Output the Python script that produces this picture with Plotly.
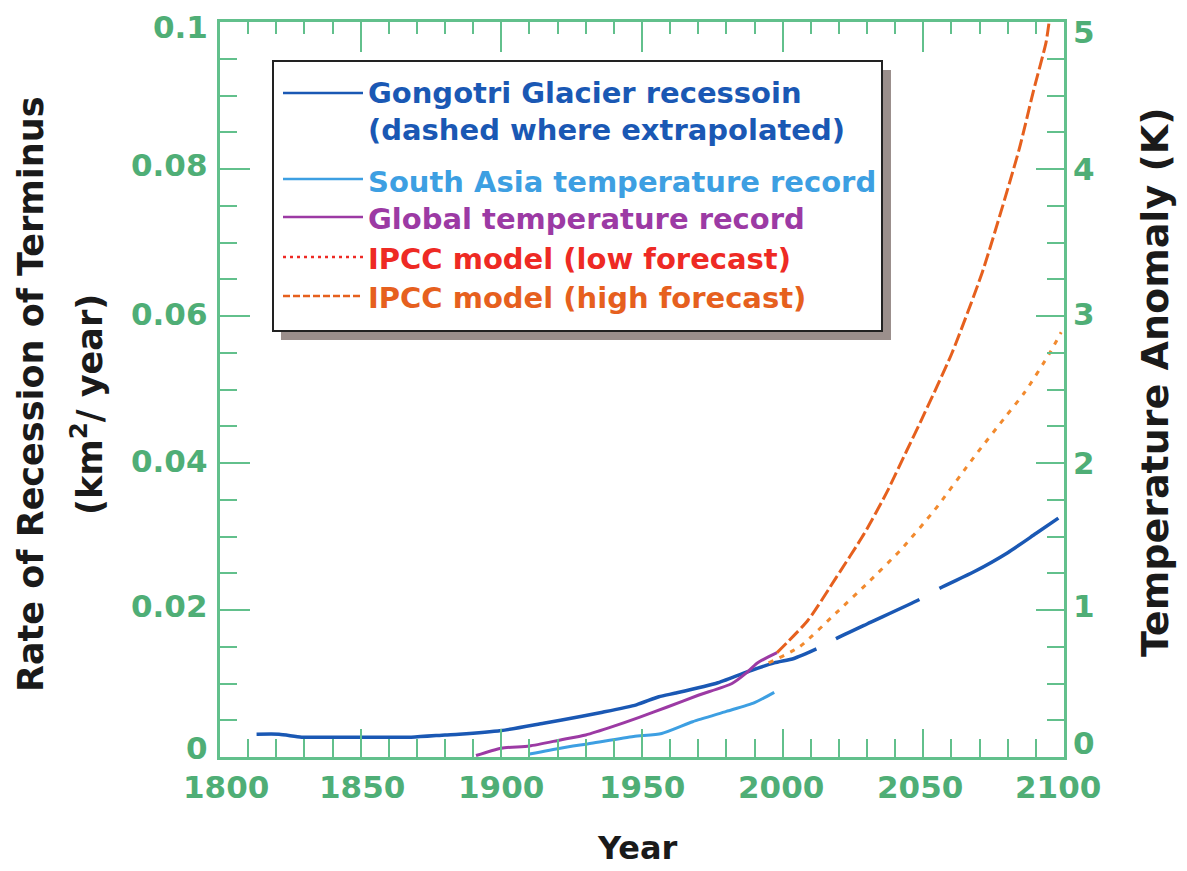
import plotly.graph_objects as go

# ---------------- data ----------------
gong_years = [1813, 1821, 1829, 1839, 1868, 1880, 1885, 1900, 1915, 1921, 1936,
              1948, 1956, 1962, 1977, 1989, 1997, 2004, 2012]
gong_rate = [0.0031, 0.0031, 0.0027, 0.0027, 0.0027, 0.0030, 0.0031, 0.0036, 0.0046,
             0.0050, 0.0061, 0.0071, 0.0082, 0.0087, 0.0101, 0.0118, 0.0128, 0.0134, 0.0147]

gong_ext_years = [2012, 2019, 2030, 2049, 2056, 2068, 2080, 2090, 2098]
gong_ext_rate = [0.0147, 0.0161, 0.0181, 0.0215, 0.0230, 0.0252, 0.0278, 0.0304, 0.0325]

sa_years = [1910, 1921, 1932, 1947, 1957, 1968, 1980, 1990, 1997]
sa_temp = [0.02, 0.06, 0.093, 0.14, 0.16, 0.24, 0.31, 0.37, 0.44]

gl_years = [1891, 1900, 1910, 1921, 1930, 1940, 1949, 1959, 1970, 1982, 1987, 1991, 1998]
gl_temp = [0.01, 0.06, 0.075, 0.116, 0.15, 0.21, 0.27, 0.34, 0.42, 0.50, 0.57, 0.64, 0.71]

low_years = [1995, 2006, 2019, 2030, 2042, 2054, 2068, 2079, 2086, 2095, 2099]
low_temp = [0.64, 0.75, 0.98, 1.18, 1.41, 1.68, 2.04, 2.31, 2.48, 2.75, 2.89]

high_years = [1998, 2009, 2019, 2029, 2037, 2044, 2049, 2060, 2071, 2084, 2089, 2093.6, 2094.7]
high_temp = [0.71, 0.93, 1.22, 1.52, 1.80, 2.08, 2.28, 2.74, 3.30, 4.13, 4.52, 4.86, 5.0]

x_tickvals = [1800, 1850, 1900, 1950, 2000, 2050, 2100]
x_ticklabels = ["1800", "1850", "1900", "1950", "2000", "2050", "2100"]
y_left_ticks = [0, 0.02, 0.04, 0.06, 0.08, 0.1]
y_left_labels = ["0", "0.02", "0.04", "0.06", "0.08", "0.1"]
y_right_ticks = [0, 1, 2, 3, 4, 5]
y_right_labels = ["0", "1", "2", "3", "4", "5"]

legend_texts = ["Gongotri Glacier recessoin", "(dashed where extrapolated)",
                "South Asia temperature record", "Global temperature record",
                "IPCC model (low forecast)", "IPCC model (high forecast)"]

# ---------------- styles ----------------
C_GONG = "#1a58b4"
C_SA = "#3d9fe2"
C_GL = "#9c3aa4"
C_LOW = "#f28a2e"
C_LOW_LEG = "#ee2a24"
C_HIGH = "#e6601e"
C_AXIS = "#62c08c"
C_TICKLAB = "#4fae76"
FONT = "DejaVu Sans"

# small nudges (px) of tick labels as drawn in the original
left_label_nudge = [9, 4, 2, 2, 4, -5]
right_label_nudge = [14, 4, 0, 2, 0, -10]
x_label_nudge = [6, 1, 0, 0, -2, -3, -6]

OFF = 8  # default body margin of the html page
W, H = 1187 - OFF, 871 - OFF
# plot-area edges in page pixels
PL, PR, PT, PB = 220, 1064, 22, 757
L, R, T, B = PL - OFF, PR - OFF, PT - OFF, PB - OFF


def pxx(p):
    return (p - PL) / (PR - PL)


def pxy(p):
    return (PB - p) / (PB - PT)


fig = go.Figure()

fig.add_trace(go.Scatter(x=gong_years, y=gong_rate, mode="lines",
                         line=dict(color=C_GONG, width=3.5, shape="spline", smoothing=0.6),
                         showlegend=False))
fig.add_trace(go.Scatter(x=gong_ext_years, y=gong_ext_rate, mode="lines",
                         line=dict(color=C_GONG, width=3.5, dash="0px,22px,92px,23px,300px",
                                   shape="spline", smoothing=0.6),
                         showlegend=False))
fig.add_trace(go.Scatter(x=sa_years, y=sa_temp, mode="lines", xaxis="x2", yaxis="y2",
                         line=dict(color=C_SA, width=3, shape="spline", smoothing=0.6),
                         showlegend=False))
fig.add_trace(go.Scatter(x=gl_years, y=gl_temp, mode="lines", xaxis="x2", yaxis="y2",
                         line=dict(color=C_GL, width=3, shape="spline", smoothing=0.6),
                         showlegend=False))
fig.add_trace(go.Scatter(x=low_years, y=low_temp, mode="lines", xaxis="x2", yaxis="y2",
                         line=dict(color=C_LOW, width=3, dash="5px,7px", shape="spline",
                                   smoothing=0.6), showlegend=False))
fig.add_trace(go.Scatter(x=high_years, y=high_temp, mode="lines", xaxis="x2", yaxis="y2",
                         line=dict(color=C_HIGH, width=3, dash="13px,4px", shape="spline",
                                   smoothing=0.6), showlegend=False))

tickfont = dict(family=FONT, size=31, color=C_TICKLAB, weight="bold")

fig.update_layout(
    width=W, height=H, autosize=False,
    margin=dict(l=L, r=W - R, t=T, b=H - B, pad=0, autoexpand=False),
    paper_bgcolor="white", plot_bgcolor="white",
    showlegend=False,
    xaxis=dict(range=[1800, 2100], tickvals=x_tickvals, ticks="inside", ticklen=28,
               tickwidth=1.5, tickcolor=C_AXIS, showline=True, linecolor=C_AXIS, linewidth=2.5,
               showgrid=False, zeroline=False, showticklabels=False, automargin=False,
               minor=dict(dtick=10, ticks="inside", ticklen=18, tickcolor=C_AXIS, tickwidth=1.5,
                          showgrid=False)),
    xaxis2=dict(range=[1800, 2100], overlaying="x", side="top", anchor="y2",
                tickvals=x_tickvals, ticks="inside", ticklen=30, tickwidth=1.5,
                tickcolor=C_AXIS, showline=True, linecolor=C_AXIS, linewidth=2.5,
                showgrid=False, zeroline=False, showticklabels=False, automargin=False,
                minor=dict(dtick=10, ticks="inside", ticklen=12, tickcolor=C_AXIS, tickwidth=1.5,
                           showgrid=False)),
    yaxis=dict(range=[0, 0.1], tickvals=y_left_ticks, showticklabels=False,
               ticks="inside", ticklen=30, tickwidth=1.5, tickcolor=C_AXIS,
               showline=True, linecolor=C_AXIS, linewidth=2.5, showgrid=False, zeroline=False,
               automargin=False,
               minor=dict(dtick=0.005, ticks="inside", ticklen=17, tickcolor=C_AXIS,
                          tickwidth=1.5, showgrid=False)),
    yaxis2=dict(range=[0, 5], overlaying="y", side="right", anchor="x2",
                tickvals=y_right_ticks, ticks="inside", ticklen=28, tickwidth=1.5,
                tickcolor=C_AXIS, showline=True, linecolor=C_AXIS, linewidth=2.5,
                showgrid=False, zeroline=False, showticklabels=False, automargin=False,
                minor=dict(dtick=0.25, ticks="inside", ticklen=17, tickcolor=C_AXIS,
                           tickwidth=1.5, showgrid=False)),
)

annotations = []
shapes = []

# tick labels (placed on the axis scales)
for v, lab, nud in zip(x_tickvals, x_ticklabels, x_label_nudge):
    annotations.append(dict(text=lab, xref="x", yref="paper", x=v, y=pxy(787),
                            xanchor="center", yanchor="middle", xshift=nud, showarrow=False,
                            font=tickfont, borderpad=0))
for v, lab, nud in zip(y_left_ticks, y_left_labels, left_label_nudge):
    annotations.append(dict(text=lab, xref="paper", yref="y", x=pxx(209), y=v,
                            xanchor="right", yanchor="middle", yshift=nud, showarrow=False,
                            font=tickfont, borderpad=0))
for v, lab, nud in zip(y_right_ticks, y_right_labels, right_label_nudge):
    annotations.append(dict(text=lab, xref="paper", yref="y2", x=pxx(1072), y=v,
                            xanchor="left", yanchor="middle", yshift=nud, showarrow=False,
                            font=tickfont, borderpad=0))

# axis titles
annotations.append(dict(text="Year", xref="paper", yref="paper", x=pxx(637), y=pxy(848),
                        showarrow=False, font=dict(family=FONT, size=32, color="#1a1a1a",
                                                   weight="bold"),
                        xanchor="center", yanchor="middle"))
annotations.append(dict(text="Rate of Recession of Terminus", xref="paper", yref="paper",
                        x=pxx(31), y=pxy(395), showarrow=False, textangle=-90,
                        font=dict(family=FONT, size=35, color="#1a1a1a", weight="bold"),
                        xanchor="center", yanchor="middle", borderpad=0))
annotations.append(dict(text="(km<sup>2</sup>/ year)", xref="paper", yref="paper",
                        x=pxx(87), y=pxy(405), showarrow=False, textangle=-90,
                        font=dict(family=FONT, size=35, color="#1a1a1a", weight="bold"),
                        xanchor="center", yanchor="middle"))
annotations.append(dict(text="Temperature Anomaly (K)", xref="paper", yref="paper",
                        x=pxx(1155), y=pxy(382), showarrow=False, textangle=-90,
                        font=dict(family=FONT, size=38, color="#1a1a1a", weight="bold"),
                        xanchor="center", yanchor="middle"))

# legend box with shadow
shapes.append(dict(type="rect", xref="paper", yref="paper", x0=pxx(281), x1=pxx(891),
                   y0=pxy(340), y1=pxy(70), fillcolor="#9b8f8c", line=dict(width=0),
                   layer="above"))
shapes.append(dict(type="rect", xref="paper", yref="paper", x0=pxx(273), x1=pxx(882),
                   y0=pxy(331), y1=pxy(61), fillcolor="white",
                   line=dict(color="#222222", width=2), layer="above"))

leg_text_y = [93, 130, 182, 219, 259, 298]
leg_colors = [C_GONG, C_GONG, C_SA, C_GL, C_LOW_LEG, C_HIGH]
for txt, yy, col in zip(legend_texts, leg_text_y, leg_colors):
    annotations.append(dict(text=txt, xref="paper", yref="paper", x=pxx(366), y=pxy(yy),
                            showarrow=False, xanchor="left", yanchor="middle",
                            font=dict(family=FONT, size=29, color=col, weight="bold")))

sample_y = [93, 179, 217, 257, 296]
sample_cols = [C_GONG, C_SA, C_GL, C_LOW_LEG, C_HIGH]
sample_dash = ["solid", "solid", "solid", "3px,4px", "7px,3px"]
for yy, col, ds in zip(sample_y, sample_cols, sample_dash):
    shapes.append(dict(type="line", xref="paper", yref="paper", x0=pxx(283), x1=pxx(363),
                       y0=pxy(yy), y1=pxy(yy), line=dict(color=col, width=2.5, dash=ds),
                       layer="above"))

fig.update_layout(annotations=annotations, shapes=shapes)

fig.write_html("out.html")
